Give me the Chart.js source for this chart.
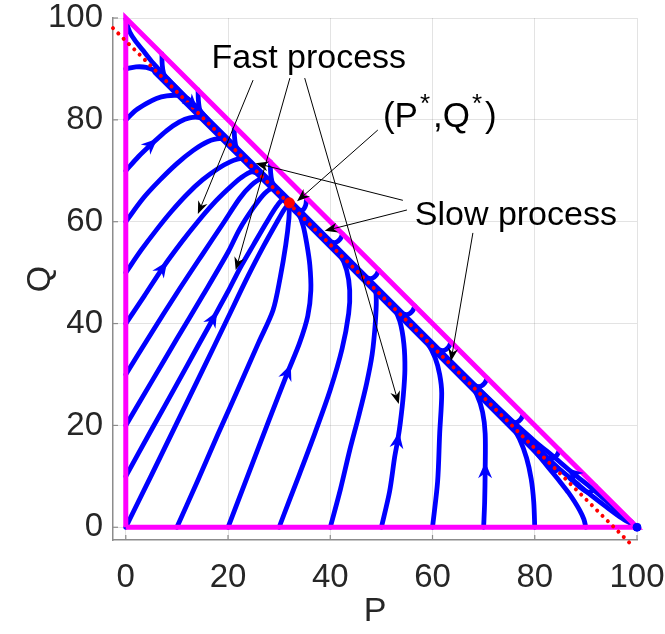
<!DOCTYPE html>
<html><head><meta charset="utf-8">
<script src="https://cdn.jsdelivr.net/npm/chart.js@4.4.1/dist/chart.umd.min.js"></script>
<style>html,body{margin:0;padding:0;background:#fff;overflow:hidden}</style>
</head><body>
<canvas id="c" width="665" height="634"></canvas>
<script>
// ---- axes ----
const xTicks = [0, 20, 40, 60, 80, 100];
const yTicks = [0, 20, 40, 60, 80, 100];
const xRange = [-2.5, 100];
const yRange = [-2.5, 100];
const xTitle = 'P';
const yTitle = 'Q';

// ---- boundary, slow manifold, equilibria ----
const triangle = [[0,0],[0,100],[100,0],[0,0]];
const slowLine = [[-2.5,98],[98.8,-3.3]];
const eqStar = [[32,63.7]];
const eqCorner = [[100,0]];
const band = [[6,89.6],[32,63.7],[84,11.5]];

// ---- trajectories along the manifold ----
const T0 = [[0,100],[0.3,98.6],[0.8,97.2],[1.8,95.6],[3.4,93.6],[5.3,91.2],[8,88.3],[10.5,85.7],[13,83.1],[16,80],[20,75.8],[25,70.7],[29,66.7],[32,63.7]];
const C1 = [[98.99,1.01],[97,2.6],[94,5.2],[91,7.8],[87.5,10.6],[84,13.6],[80,16.9],[76,20.5],[72,24.3],[66,30.1],[60,36],[52,43.9],[44,51.8],[38,57.8],[32,63.7]];
const C2 = [[100,0],[97,1.8],[94,4],[91,6.3],[88,8.8],[85,11.3],[82,14],[79,16.8],[76,19.7]];

// ---- trajectories from the Q axis ----
const L90 = [[0,90],[2,90.4],[4,90.3],[5.8,89.6],[7.3,88.5],[9,86.8],[11,84.7]];
const L80 = [[0,80],[2,81.9],[4,83.2],[6,84.2],[8,84.7],[10,84.8],[12,84.2],[13.5,82.9],[15,81.3],[17,78.9]];
const L70 = [[0,70],[2.5,72.8],[5,75.2],[8,77.9],[10.5,79.6],[12.5,80.4],[14.5,80.4],[16.5,79.2],[18.5,77.2],[21,74.6]];
const L60 = [[0,60],[3.4,64.6],[6.7,68.2],[10,71.4],[13.2,74],[16,75.7],[18.5,76.3],[20.5,75.4],[22.5,73.4],[25,70.7]];
const L50 = [[0,50],[3,54.4],[6,58.4],[9,62.1],[12,65.4],[15,68.2],[18,70.4],[20.5,71.8],[22.5,72.4],[24.3,71.6],[26,69.8],[28,67.6],[30,65.6]];
const L40 = [[0,40],[3.6,45.4],[7.2,50.9],[11,56.1],[14,59.9],[17,63.4],[20,66.4],[22.5,68.6],[24.6,69.8],[26.3,69.2],[28,67.6],[30,65.6]];
const L30 = [[0,30],[5,38.1],[10,46],[15,53.6],[19,59.6],[22.3,64.6],[24.5,67.1],[26.5,68.4],[28,67.7],[29.7,65.9],[31.5,64.1]];
const L20 = [[0,20],[5,28.5],[10,37],[15,45.4],[20,54],[22.3,58.6],[25,62.8],[27.2,65.6],[28.8,66.5],[30.4,65.1],[32,63.7]];
const L10 = [[0,10],[5,19.1],[10,28.1],[14,35.4],[17.1,41],[20,46.3],[22.3,50.8],[25,55.5],[27.5,59.8],[29.5,63],[30.8,64.4],[32,63.9]];
const L0 = [[0,0],[5,10.2],[10,20.5],[15,30.8],[20,41.2],[24,49.5],[27,55.3],[29.5,59.8],[31,62.4],[32,63.7]];

// ---- trajectories from the P axis ----
const B10 = [[10,0],[14,9],[18,18.2],[22,27.2],[26,36.3],[28.8,42.6],[30.2,49],[31.3,55.5],[31.9,60.5],[32,63.5]];
const B20 = [[20,0],[24,10.5],[28,21],[31.7,30.5],[34,36.2],[35.6,41.5],[36.2,46.5],[36,51.5],[35.4,55.7],[34.7,59.2],[33.8,61.6],[32.6,63.2]];
const B30 = [[30,0],[32,5.3],[34,10.5],[37,18.5],[40,27],[42.3,35],[43.6,42],[43.8,46.5],[43.2,50.5],[41.9,53.5],[40,55.6],[38,57.6],[35.5,60.1],[32.8,62.9]];
const B40 = [[40,0],[42,7.5],[43.8,15.1],[45.6,22],[47.1,28.2],[48.2,34],[48.8,40],[49,44.6],[48.7,47.2],[47.4,48.5],[45,50.6],[42,53.6]];
const B50 = [[50,0],[51.6,7],[52.6,13.8],[53.2,17.1],[53.7,20.5],[54.3,26],[54.6,31],[54.4,36],[53.6,40.5],[52.2,43.5],[50.5,45.2],[48,47.6]];
const B60 = [[60,0],[61,9],[61.4,18.4],[61.8,26.3],[61.4,30],[60.5,33.3],[59,36.2],[57,38.6],[55,40.6],[52.5,43]];
const B70 = [[70,0],[70.2,5],[70.3,11.2],[70.3,18.4],[69.8,22.6],[68.7,26],[67,28.6],[65,30.7],[62.5,33.1]];
const B80 = [[80,0],[79.8,5],[79.3,9.5],[78.4,13.6],[77,17.4],[75,20.8],[72.6,23.6],[70,26],[67,28.8]];
const B90 = [[90,0],[89.6,1.6],[88.8,3.3],[87.8,5],[86.6,6.8],[85.2,8.6],[83.6,10.6],[81.8,12.8],[79.5,15.6],[77,18.4]];

// ---- short trajectories from the hypotenuse ----
const H1 = [[7.07,92.93],[7.12,90.9],[7.4,89.1],[8.1,87.7],[9.1,86.5],[11.1,84.4]];
const H2 = [[14.14,85.86],[14.2,83.9],[14.45,82.1],[15.15,80.6],[16.15,79.5],[18.15,77.4]];
const H3 = [[21.21,78.79],[21.26,76.8],[21.5,75],[22.2,73.6],[23.2,72.4],[25.2,70.3]];
const H4 = [[28.28,71.72],[28.33,69.7],[28.6,67.9],[29.3,66.5],[30.3,65.3],[31.8,63.8]];
const H5 = [[35.36,64.64],[35.2,63.3],[34.6,62.3],[33.6,62.4],[32.5,63.2]];
const H6 = [[42.43,57.57],[41.83,56.47],[40.83,55.87],[39.43,56.47],[37.43,58.47]];
const H7 = [[49.5,50.5],[48.9,49.4],[47.9,48.8],[46.5,49.4],[44.5,51.4]];
const H8 = [[56.57,43.43],[55.97,42.33],[54.97,41.73],[53.57,42.33],[51.57,44.33]];
const H9 = [[63.64,36.36],[63.04,35.26],[62.04,34.66],[60.64,35.26],[58.64,37.26]];
const H10 = [[70.71,29.29],[70.11,28.19],[69.11,27.59],[67.71,28.19],[65.71,30.19]];
const H11 = [[77.78,22.22],[77.18,21.12],[76.18,20.52],[74.78,21.12],[72.78,23.12]];
const H12 = [[84.85,15.15],[84.25,14.05],[83.25,13.45],[81.85,14.05],[79.85,16.05]];
const H13 = [[91.92,8.08],[91.3,7.2],[90.3,6.9],[88.8,7.9],[86.8,9.7]];

// arrowheads on trajectories: [curve, point index]
const flowArrows = [[T0,8],[C1,4],[L70,2],[L40,2],[L10,4],[B20,3],[B50,3],[B70,2]];

// ---- annotations (data coordinates) ----
const fastLabel = ['Fast process', 35.8, 92.1];
const fastArrows = [[[24.9,87.8],[14.1,61.5]],[[32.1,88.2],[21.5,50.5]],[[35,88.2],[53.4,24.2]]];
const slowLabel = ['Slow process', 76.3, 61.1];
const slowArrows = [[[54.2,64.2],[25.4,71.5]],[[55,62.3],[38.9,58.2]],[[67.9,57.8],[63.6,32.6]]];
const starLabelPos = [50.3, 78.6];
const starArrows = [[[49.3,78],[33.5,64]]];

const blueCurves = [T0,C1,C2,L90,L80,L70,L60,L50,L40,L30,L20,L10,L0,B10,B20,B30,B40,B50,B60,B70,B80,B90,H1,H2,H3,H4,H5,H6,H7,H8,H9,H10,H11,H12,H13];

const FONT = '"Liberation Sans", Arial, Helvetica, sans-serif';
const toXY = a => a.map(([x,y]) => ({x, y}));

const datasets = [];
datasets.push({data: toXY(eqStar), showLine:false, pointRadius:5, pointHoverRadius:5, pointBackgroundColor:'#ff0000', pointBorderColor:'#ff0000', order:0, clip:false});
datasets.push({data: toXY(eqCorner), showLine:false, pointRadius:4, pointHoverRadius:4, pointBackgroundColor:'#0000ff', pointBorderColor:'#0000ff', order:0, clip:false});
datasets.push({data: toXY(slowLine), showLine:true, pointRadius:0, borderColor:'#ff0000', borderWidth:4, borderDash:[0.01,7.5], borderCapStyle:'round', order:1, clip:false});
datasets.push({data: toXY(triangle), showLine:true, pointRadius:0, borderColor:'#ff00ff', borderWidth:5, order:2, clip:false, borderJoinStyle:'miter'});
datasets.push({data: toXY(band), showLine:true, pointRadius:0, borderColor:'#0000ff', borderWidth:9, order:3, borderCapStyle:'round'});
blueCurves.forEach(c => datasets.push({data: toXY(c), showLine:true, pointRadius:0, borderColor:'#0000ff', borderWidth:4.8, tension:0.3, order:4, borderCapStyle:'round', borderJoinStyle:'round'}));

function head(ctx, x, y, ang, len, half, notch, color, atTip) {
  ctx.save();
  ctx.translate(x, y); ctx.rotate(ang);
  const f = atTip ? 0 : len/2;
  ctx.beginPath();
  ctx.moveTo(f, 0);
  ctx.lineTo(f - len, half);
  ctx.lineTo(f - len + notch, 0);
  ctx.lineTo(f - len, -half);
  ctx.closePath();
  ctx.fillStyle = color; ctx.fill();
  ctx.restore();
}

const overlay = {
  id: 'overlay',
  afterDatasetsDraw(chart) {
    const ctx = chart.ctx, xs = chart.scales.x, ys = chart.scales.y;
    const X = v => xs.getPixelForValue(v), Y = v => ys.getPixelForValue(v);
    // inward tick marks
    ctx.save();
    ctx.strokeStyle = '#8c8c8c'; ctx.lineWidth = 1.2;
    const ca = chart.chartArea;
    xTicks.forEach(v => { ctx.beginPath(); ctx.moveTo(X(v), ca.bottom); ctx.lineTo(X(v), ca.bottom - 5); ctx.stroke(); });
    yTicks.forEach(v => { ctx.beginPath(); ctx.moveTo(ca.left, Y(v)); ctx.lineTo(ca.left + 5, Y(v)); ctx.stroke(); });
    ctx.restore();
    // flow arrowheads
    flowArrows.forEach(([c, i]) => {
      const p0 = c[i-1], p = c[i], p1 = c[i+1];
      const ang = Math.atan2(Y(p1[1]) - Y(p0[1]), X(p1[0]) - X(p0[0]));
      head(ctx, X(p[0]), Y(p[1]), ang, 16, 7, 5, '#0000ff', false);
    });
    // annotation arrows
    const drawArrow = ([s, e]) => {
      const x0 = X(s[0]), y0 = Y(s[1]), x1 = X(e[0]), y1 = Y(e[1]);
      const ang = Math.atan2(y1 - y0, x1 - x0);
      ctx.save();
      ctx.strokeStyle = '#000'; ctx.lineWidth = 1;
      ctx.beginPath(); ctx.moveTo(x0, y0); ctx.lineTo(x1 - 8*Math.cos(ang), y1 - 8*Math.sin(ang)); ctx.stroke();
      ctx.restore();
      head(ctx, x1, y1, ang, 13, 5, 4, '#000', true);
    };
    fastArrows.forEach(drawArrow);
    slowArrows.forEach(drawArrow);
    starArrows.forEach(drawArrow);
    // labels
    ctx.save();
    ctx.fillStyle = '#000';
    ctx.font = '34px ' + FONT;
    ctx.textAlign = 'center'; ctx.textBaseline = 'middle';
    ctx.fillText(fastLabel[0], X(fastLabel[1]), Y(fastLabel[2]));
    ctx.fillText(slowLabel[0], X(slowLabel[1]), Y(slowLabel[2]));
    // (P*,Q*)
    ctx.textAlign = 'left'; ctx.textBaseline = 'alphabetic';
    let x = X(starLabelPos[0]); const yb = Y(starLabelPos[1]);
    const parts = [['(P',0],['*',1],[',Q',0],['*',1],[')',0]];
    parts.forEach(([t, sup]) => {
      ctx.font = (sup ? '26px ' : '35px ') + FONT;
      if (sup) x += 2;
      ctx.fillText(t, x, sup ? yb - 15 : yb);
      x += ctx.measureText(t).width + (sup ? 3 : 0);
    });
    ctx.restore();
  }
};

const noPad = s => { s.paddingLeft = 0; s.paddingRight = 0; s.paddingTop = 0; s.paddingBottom = 0; };

new Chart(document.getElementById('c'), {
  type: 'scatter',
  data: { datasets },
  options: {
    responsive: false, animation: false, devicePixelRatio: 1, events: [],
    layout: { autoPadding: false, padding: { left: 0, right: 28, top: 18, bottom: 0 } },
    plugins: { legend: { display: false }, tooltip: { enabled: false } },
    scales: {
      x: {
        type: 'linear', min: xRange[0], max: xRange[1],
        afterBuildTicks: s => { s.ticks = xTicks.map(v => ({ value: v })); },
        afterFit: s => { s.height = 94; noPad(s); },
        grid: { color: 'rgba(0,0,0,0.11)', lineWidth: 1, drawTicks: false },
        border: { color: '#8c8c8c', width: 1.5 },
        ticks: { padding: 21, color: '#262626', autoSkip: false, maxRotation: 0, font: { family: FONT, size: 33, lineHeight: 1 }, callback: v => String(v) },
        title: { display: true, text: xTitle, color: '#262626', font: { family: FONT, size: 34, lineHeight: 1.2 }, padding: { top: 0, bottom: 2 } }
      },
      y: {
        type: 'linear', min: yRange[0], max: yRange[1],
        afterBuildTicks: s => { s.ticks = yTicks.map(v => ({ value: v })); },
        afterFit: s => { s.width = 113; noPad(s); },
        grid: { color: 'rgba(0,0,0,0.11)', lineWidth: 1, drawTicks: false },
        border: { color: '#8c8c8c', width: 1.5 },
        ticks: { padding: 10, color: '#262626', autoSkip: false, font: { family: FONT, size: 33, lineHeight: 1 }, callback: v => String(v) },
        title: { display: true, text: yTitle, color: '#262626', font: { family: FONT, size: 34, lineHeight: 1.2 }, padding: { top: 20, bottom: 0 } }
      }
    }
  },
  plugins: [overlay]
});
</script>
</body></html>
